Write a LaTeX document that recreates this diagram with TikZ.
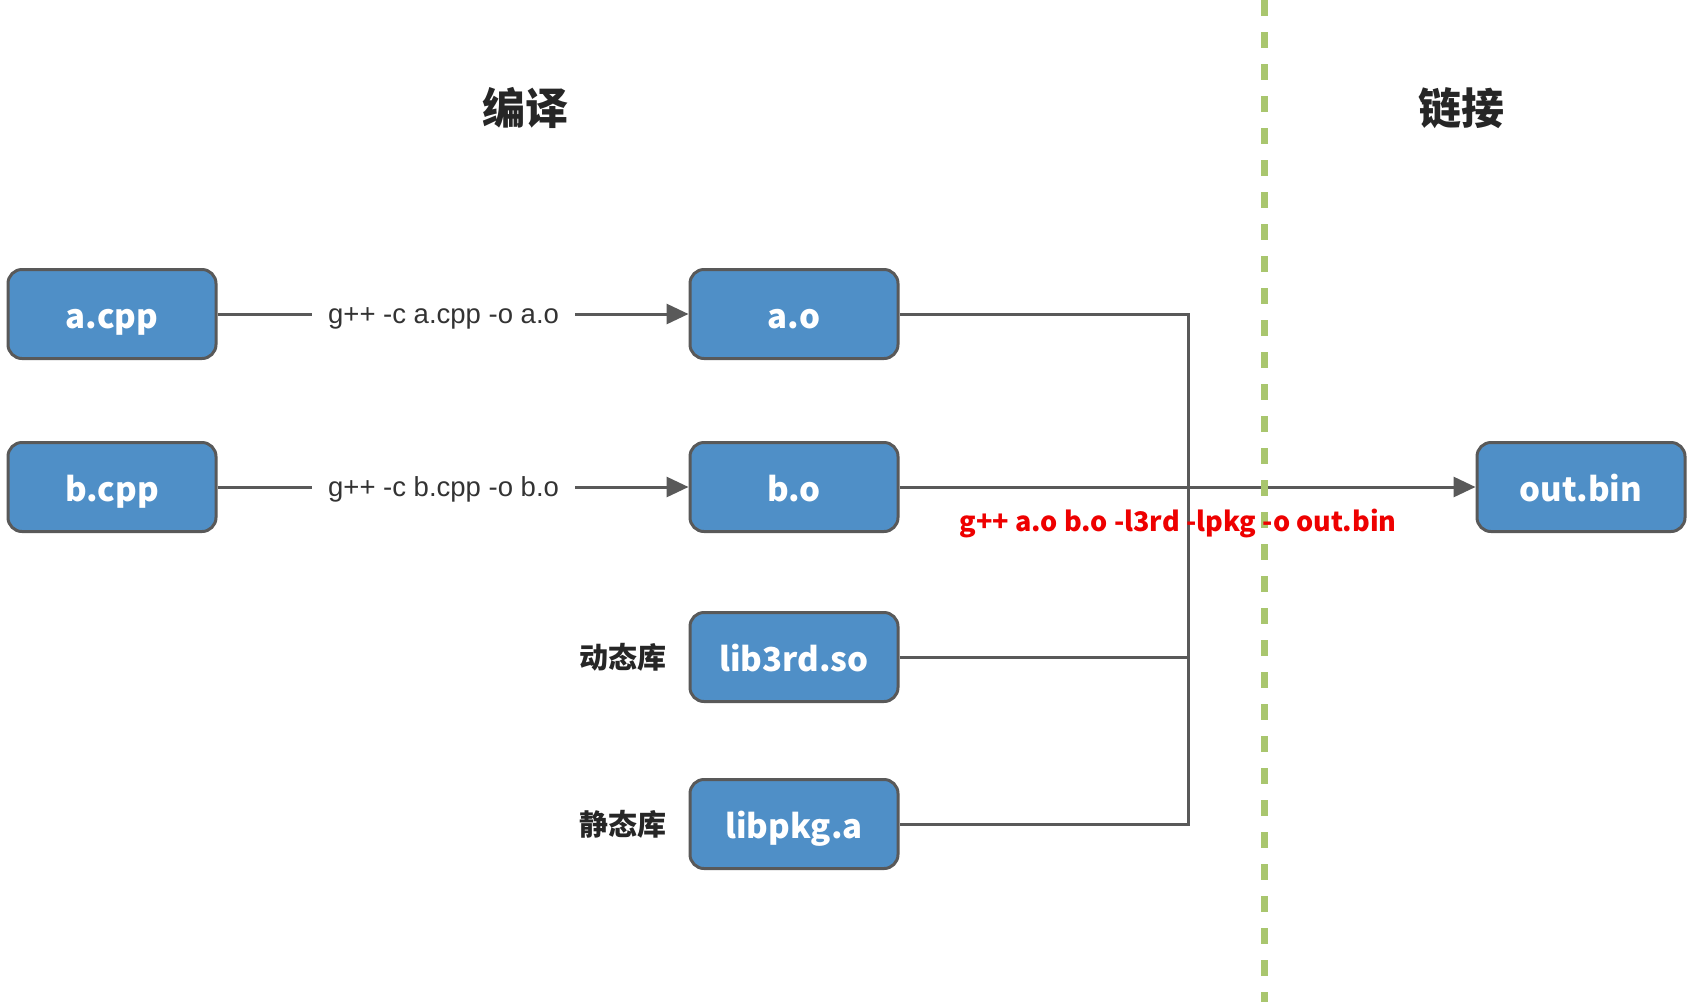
\documentclass[tikz,border=0pt]{standalone}
\usepackage{fontspec}
\usetikzlibrary{arrows.meta}
\newfontfamily\cjk{Noto Sans CJK SC}
\newfontfamily\labfont{Liberation Sans}
\definecolor{boxblue}{HTML}{4F8FC7}
\definecolor{edgegray}{HTML}{595959}
\definecolor{divgreen}{HTML}{A9C66E}
\definecolor{titlegray}{HTML}{262626}
\definecolor{labgray}{HTML}{333333}
\definecolor{cmdred}{HTML}{EE0000}
\tikzset{
  filebox/.style={draw=edgegray, line width=3pt, fill=boxblue, rounded corners=14pt,
    minimum width=208pt, minimum height=89pt, inner sep=0pt, text=white,
    text height=28pt, text depth=0pt,
    font=\cjk\bfseries\fontsize{33}{36}\selectfont},
  conn/.style={draw=edgegray, line width=3pt},
  arr/.style={conn, -{Triangle[length=22pt,width=20pt]}},
  cmdlabel/.style={fill=white, inner xsep=16pt, inner ysep=4pt, text=labgray,
    text height=21pt, text depth=3pt,
    font=\labfont\fontsize{27.5}{29}\selectfont},
  title/.style={text=titlegray, font=\cjk\bfseries\fontsize{43}{45}\selectfont},
  libtag/.style={text=titlegray, font=\cjk\bfseries\fontsize{29}{31}\selectfont},
}
\begin{document}
\begin{tikzpicture}[x=1pt,y=-1pt]
\useasboundingbox (0,0) rectangle (1693,1002);
\fill[white] (0,0) rectangle (1693,1002);

\node[title] (tcomp) at (525,108) {编译};
\node[title] (tlink) at (1461,108) {链接};

\node[filebox] (acpp) at (112,314) {a.cpp};
\node[filebox] (bcpp) at (112,487) {b.cpp};
\node[filebox] (ao) at (794,314) {a.o};
\node[filebox] (bo) at (794,487) {b.o};
\node[filebox] (lib3rd) at (794,657) {lib3rd.so};
\node[filebox] (libpkg) at (794,824) {libpkg.a};
\node[filebox] (outbin) at (1581,487) {out.bin};

\node[libtag] (dyn) at (623,657) {动态库};
\node[libtag] (sta) at (623,824) {静态库};

\draw[arr] (acpp) -- node[cmdlabel, pos=0.48] (la) {g++ -c a.cpp -o a.o} (ao);
\draw[arr] (bcpp) -- node[cmdlabel, pos=0.48] (lb) {g++ -c b.cpp -o b.o} (bo);

\coordinate (bustop) at (1188,314);
\coordinate (busbot) at (1188,824);
\draw[conn] (ao.east) -- (bustop) -- (busbot) -- (libpkg.east);
\draw[conn] (lib3rd.east) -- (lib3rd.east -| bustop);
\draw[arr] (bo) -- (outbin);

\coordinate (divtop) at (1264,0);
\coordinate (divbot) at (1264,1002);
\draw[draw=divgreen, line width=7pt, dash pattern=on 16pt off 16pt] (divtop) -- (divbot);

\node[text=cmdred, font=\cjk\bfseries\fontsize{27}{29}\selectfont] (cmd) at (1178,523) {g++ a.o b.o -l3rd -lpkg -o out.bin};
\end{tikzpicture}
\end{document}
